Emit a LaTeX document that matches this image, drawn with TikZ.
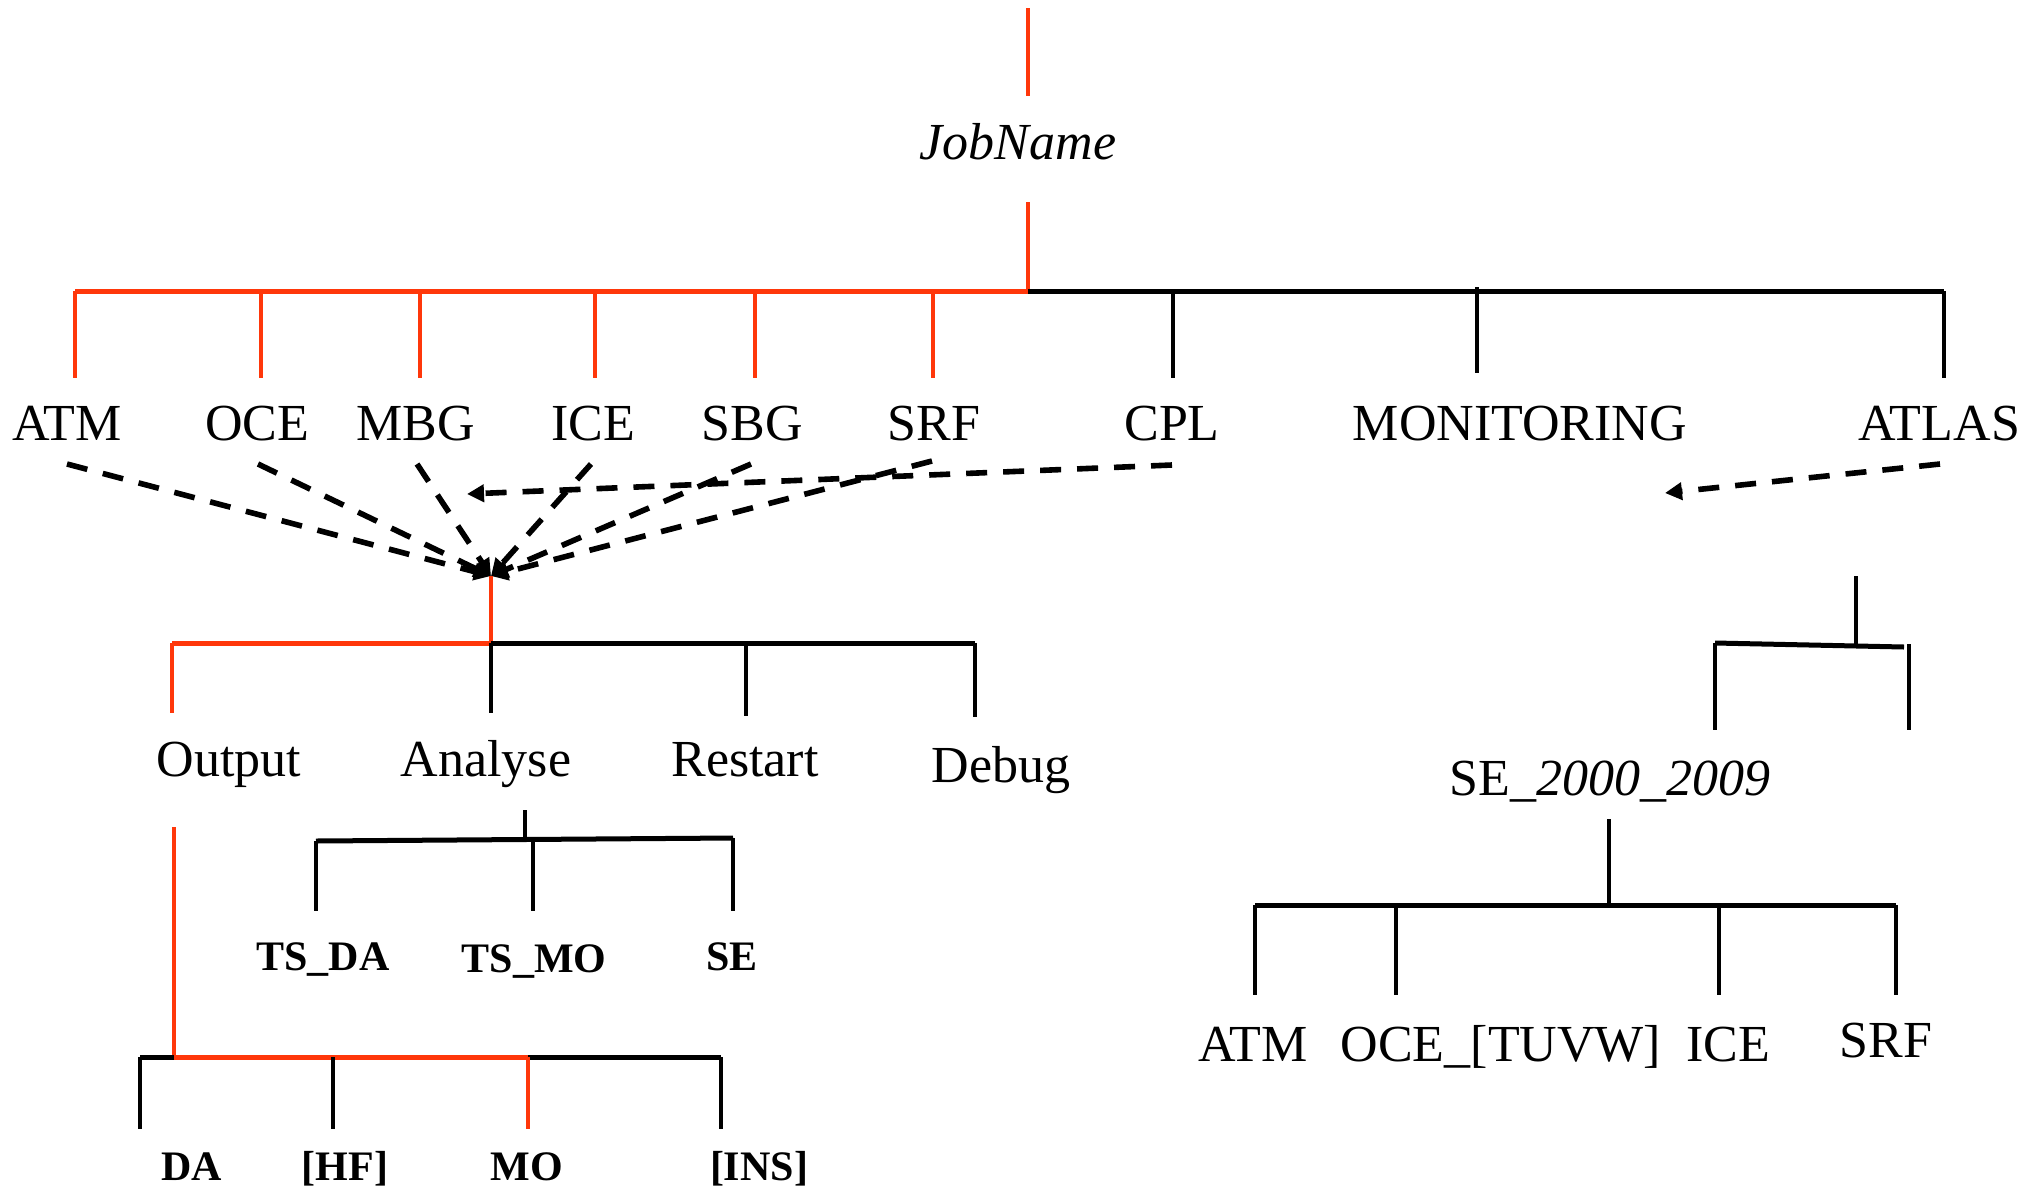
\documentclass[tikz,border=0pt]{standalone}
\usepackage{fontspec}
\setmainfont{Liberation Serif}
\usetikzlibrary{arrows.meta}
\definecolor{tred}{RGB}{255,55,10}
\begin{document}
\begin{tikzpicture}[x=0.5pt,y=-0.5pt,
  lbl/.style={anchor=base,inner sep=0pt,font=\fontsize{26}{30}\selectfont},
  blbl/.style={anchor=base,inner sep=0pt,font=\fontsize{21}{25}\selectfont\bfseries},
  vred/.style={draw=tred,line width=2pt},
  vblk/.style={draw=black,line width=2pt},
  hred/.style={draw=tred,line width=2.5pt},
  hblk/.style={draw=black,line width=2.5pt},
  darr/.style={draw=black,line width=2.8pt,dash pattern=on 10.5pt off 8pt,-{Triangle[length=8.5pt,width=8.5pt]}}]
\useasboundingbox (0,0) rectangle (2044,1189);
% ---------- root
\node[lbl,font=\fontsize{26}{30}\selectfont\itshape] (job) at (1018,159) {JobName};
\coordinate (jt1) at (1028,8); \coordinate (jt2) at (1028,96);
\coordinate (jb1) at (1028,202); \coordinate (jb2) at (1028,291);
\draw[vred] (jt1) -- (jt2);
\draw[vred] (jb1) -- (jb2);
\coordinate (hl) at (75,291); \coordinate (hr) at (1944,291);
\draw[hred] (hl) -- (jb2);
\draw[hblk] (jb2) -- (hr);
% ---------- first level
\foreach \n/\x/\t in {ATM/67/ATM,OCE/257/OCE,MBG/416/MBG,ICE/593/ICE,SBG/752/SBG,SRF/934/SRF,CPL/1172/CPL,MON/1520/MONITORING,ATL/1939/ATLAS}
  {\node[lbl] (\n) at (\x,440) {\t};}
\foreach \n/\x in {ATM/75,OCE/261,MBG/420,ICE/595,SBG/755,SRF/933}
  {\coordinate (\n a) at (\x,291); \coordinate (\n b) at (\x,378);
   \draw[vred] (\n a) -- (\n b);}
\coordinate (CPLa) at (1173,291); \coordinate (CPLb) at (1173,378);
\coordinate (MONa) at (1477,287); \coordinate (MONb) at (1477,373);
\coordinate (ATLa) at (1944,291); \coordinate (ATLb) at (1944,378);
\draw[vblk] (CPLa) -- (CPLb);
\draw[vblk] (MONa) -- (MONb);
\draw[vblk] (ATLa) -- (ATLb);
% ---------- dashed arrows
\coordinate (tip) at (491,576);
\coordinate (tipc) at (467,494);
\coordinate (tipa) at (1665,493);
\foreach \n/\x/\y in {ATM/67/464,OCE/258/464,MBG/417/464,ICE/591/464,SBG/751/464,SRF/932/461}
  {\coordinate (\n s) at (\x,\y); \draw[darr] (\n s) -- (tip);}
\coordinate (CPLs) at (1172,465);
\draw[darr] (CPLs) -- (tipc);
\coordinate (ATLs) at (1940,464);
\draw[darr] (ATLs) -- (tipa);
% ---------- second level
\coordinate (l2j) at (491,643);
\draw[vred] (tip) -- (l2j);
\coordinate (l2l) at (172,643); \coordinate (l2r) at (975,643);
\draw[hred] (l2l) -- (l2j);
\draw[hblk] (l2j) -- (l2r);
\coordinate (Outb) at (172,713); \coordinate (Anab) at (491,713);
\coordinate (Resa) at (746,643); \coordinate (Resb) at (746,716);
\coordinate (Deba) at (975,643); \coordinate (Debb) at (975,717);
\draw[vred] (l2l) -- (Outb);
\draw[vblk] (l2j) -- (Anab);
\draw[vblk] (Resa) -- (Resb);
\draw[vblk] (Deba) -- (Debb);
\node[lbl] (Out) at (229,776) {Output};
\node[lbl] (Ana) at (486,776) {Analyse};
\node[lbl] (Res) at (745,776) {Restart};
\node[lbl] (Deb) at (1001,782) {Debug};
% ---------- Analyse subtree
\coordinate (aa) at (525,810); \coordinate (ab) at (525,840);
\draw[vblk] (aa) -- (ab);
\coordinate (al) at (316,841); \coordinate (ar) at (733,838);
\draw[hblk] (al) -- (ar);
\coordinate (tsdab) at (316,911);
\coordinate (tsmoa) at (533,840); \coordinate (tsmob) at (533,911);
\coordinate (seb) at (733,911);
\draw[vblk] (al) -- (tsdab);
\draw[vblk] (tsmoa) -- (tsmob);
\draw[vblk] (ar) -- (seb);
\node[blbl] (TSDA) at (323,970) {TS\_DA};
\node[blbl] (TSMO) at (534,972) {TS\_MO};
\node[blbl] (SE) at (732,970) {SE};
% ---------- Output subtree
\coordinate (oa) at (174,827); \coordinate (oj) at (174,1057);
\draw[vred] (oa) -- (oj);
\coordinate (ol) at (140,1057); \coordinate (om) at (528,1057); \coordinate (or) at (721,1057);
\coordinate (hfa) at (333,1057);
\draw[hblk] (ol) -- (oj);
\draw[hred] (oj) -- (om);
\draw[hblk] (om) -- (or);
\coordinate (dab) at (140,1129); \coordinate (hfb) at (333,1129);
\coordinate (mob) at (528,1129); \coordinate (insb) at (721,1129);
\draw[vblk] (ol) -- (dab);
\draw[vblk] (hfa) -- (hfb);
\draw[vred] (om) -- (mob);
\draw[vblk] (or) -- (insb);
\node[blbl] (DA) at (192,1180) {DA};
\node[blbl] (HF) at (345,1180) {[HF]};
\node[blbl] (MO) at (527,1180) {MO};
\node[blbl] (INS) at (759,1180) {[INS]};
% ---------- ATLAS subtree
\coordinate (ta) at (1856,576); \coordinate (tb) at (1856,645);
\draw[vblk] (ta) -- (tb);
\coordinate (tl) at (1715,643); \coordinate (tr) at (1904,647);
\draw[hblk] (tl) -- (tr);
\coordinate (tlb) at (1715,730);
\coordinate (tra) at (1909,644); \coordinate (trb) at (1909,730);
\draw[vblk] (tl) -- (tlb);
\draw[vblk] (tra) -- (trb);
\node[lbl] (SEY) at (1610,795) {SE\_\textit{2000\_2009}};
\coordinate (sa) at (1609,819); \coordinate (sj) at (1609,905);
\draw[vblk] (sa) -- (sj);
\coordinate (sl) at (1255,905); \coordinate (sr) at (1896,905);
\draw[hblk] (sl) -- (sr);
\coordinate (s2a) at (1396,905); \coordinate (s3a) at (1719,905);
\coordinate (s1b) at (1255,995); \coordinate (s2b) at (1396,995);
\coordinate (s3b) at (1719,995); \coordinate (s4b) at (1896,995);
\draw[vblk] (sl) -- (s1b);
\draw[vblk] (s2a) -- (s2b);
\draw[vblk] (s3a) -- (s3b);
\draw[vblk] (sr) -- (s4b);
\node[lbl] (RATM) at (1253,1061) {ATM};
\node[lbl] (ROCE) at (1501,1061) {OCE\_[TUVW]};
\node[lbl] (RICE) at (1728,1061) {ICE};
\node[lbl] (RSRF) at (1886,1057) {SRF};
\end{tikzpicture}
\end{document}
